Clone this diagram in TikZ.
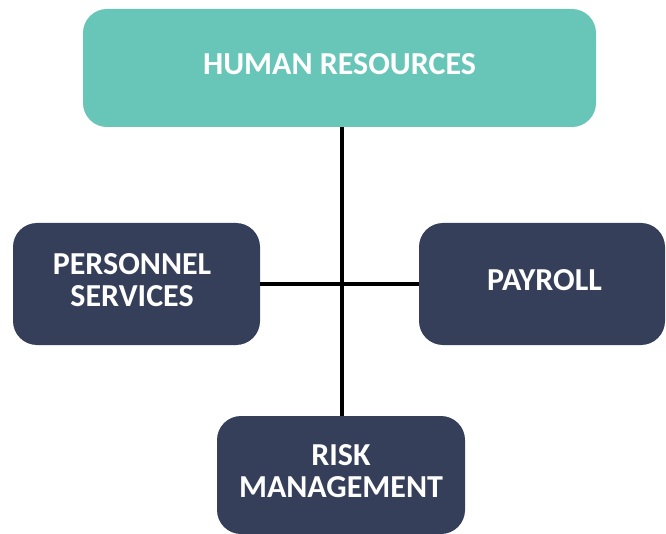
\documentclass[tikz,border=0pt]{standalone}
\usepackage{fontspec}
\setmainfont{Carlito}
\definecolor{teal1}{HTML}{67C6B7}
\definecolor{navy1}{HTML}{353F5A}
\newcommand{\boxtext}[1]{\begin{tabular}{@{}c@{}}#1\end{tabular}}
\begin{document}
\begin{tikzpicture}[x=1pt,y=-1pt,
  box/.style={rounded corners=24pt, inner sep=0pt, text=white, font=\fontsize{32}{32}\selectfont\bfseries},
  conn/.style={line width=3.5pt, black}]
\useasboundingbox (0,0) rectangle (666,534);
\node[box, fill=teal1, minimum width=513pt, minimum height=118pt] (hr) at (339.5,68) {\boxtext{HUMAN RESOURCES}};
\node[box, fill=navy1, minimum width=247pt, minimum height=122pt] (ps) at (136.5,284) {\boxtext{PERSONNEL\\SERVICES}\rule{9pt}{0pt}};
\node[box, fill=navy1, minimum width=246pt, minimum height=122pt] (pay) at (542,284) {\rule{5pt}{0pt}\boxtext{PAYROLL}};
\node[box, fill=navy1, minimum width=248pt, minimum height=118pt] (rm) at (341,475) {\boxtext{RISK\\MANAGEMENT}};
\coordinate (j) at (342,284);
\draw[conn] (hr.south -| j) -- (rm.north -| j);
\draw[conn] (ps.east) -- (pay.west);
\end{tikzpicture}
\end{document}
